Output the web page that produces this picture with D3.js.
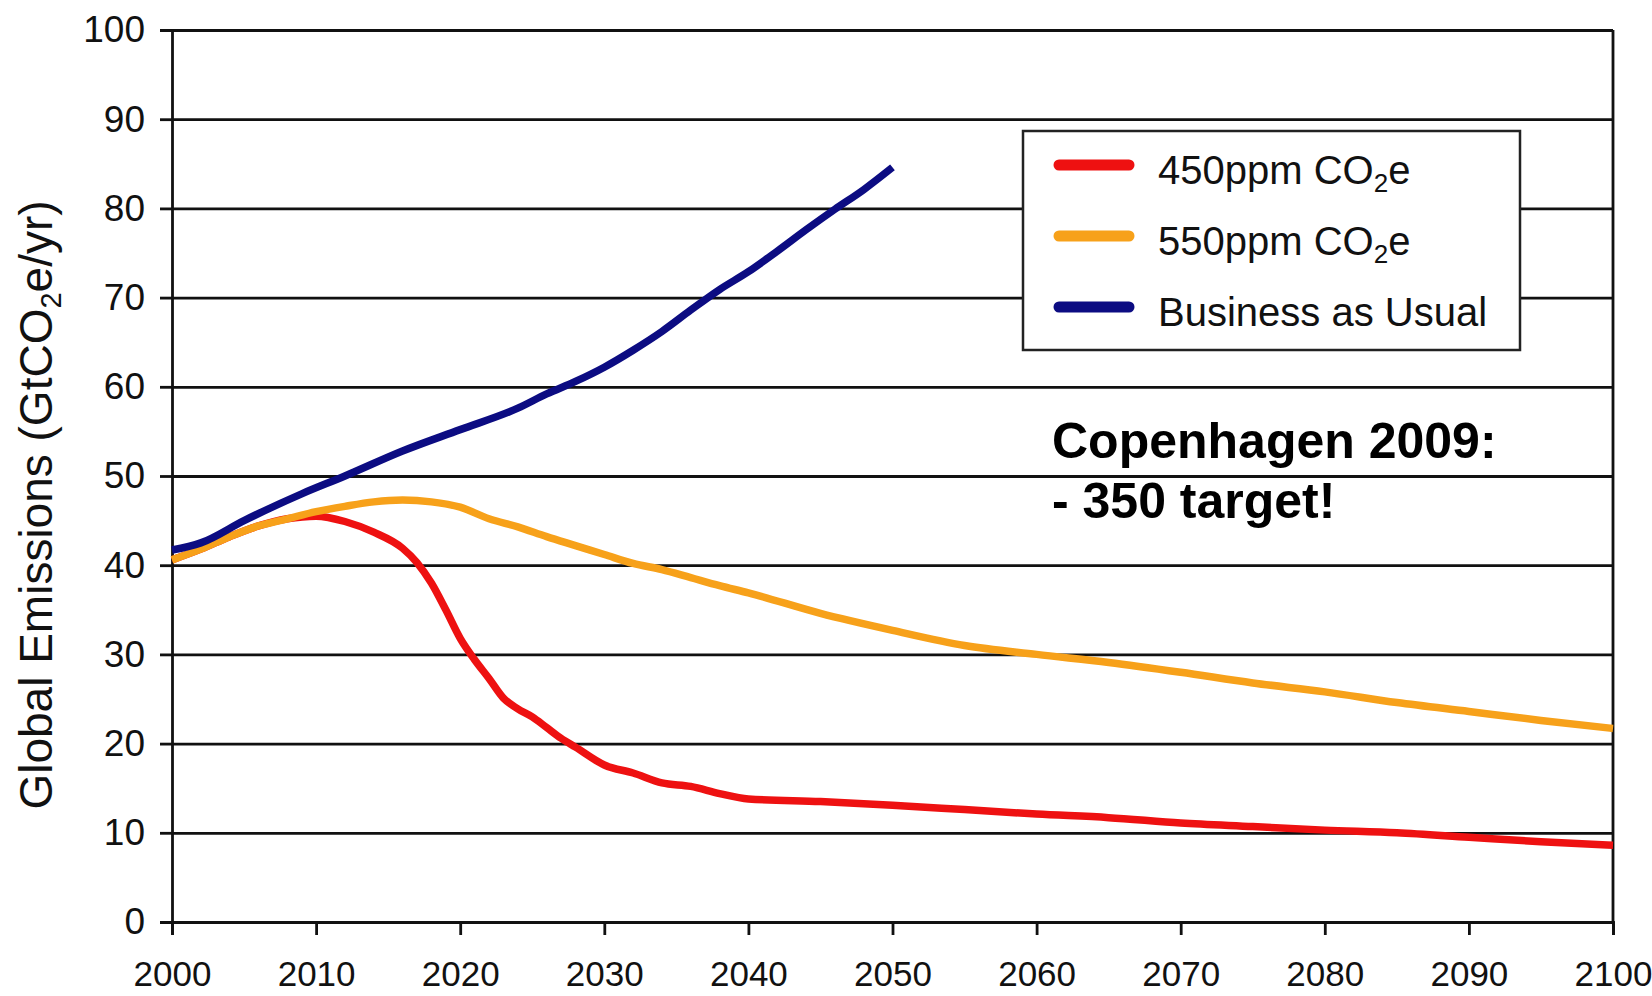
<!DOCTYPE html>
<html>
<head>
<meta charset="utf-8">
<script src="https://cdn.jsdelivr.net/npm/d3@7"></script>
<style>
  body { margin: 0; background: #fff; }
  text { font-family: "Liberation Sans", Arial, sans-serif; fill: #111; }
</style>
</head>
<body>
<script>
// data
var years450 = [2000,2002,2004,2006,2008,2010,2012,2014,2016,2017,2018,2019,2020,2021,2022,2023,2024,2025,2026,2027,2028,2030,2032,2034,2036,2038,2040,2045,2050,2055,2060,2065,2070,2075,2080,2085,2090,2095,2100];
var values450 = [40.6,41.8,43.2,44.4,45.2,45.5,44.9,43.7,41.9,40.3,38.0,35.0,31.8,29.4,27.3,25.1,23.9,23.0,21.8,20.6,19.6,17.6,16.7,15.6,15.2,14.4,13.8,13.5,13.1,12.6,12.1,11.7,11.1,10.7,10.3,10.0,9.5,9.0,8.6];

var years550 = [2000,2002,2004,2006,2008,2010,2012,2014,2016,2018,2020,2022,2024,2026,2028,2030,2032,2034,2036,2038,2040,2045,2050,2055,2060,2065,2070,2075,2080,2085,2090,2095,2100];
var values550 = [40.6,41.8,43.2,44.4,45.2,46.0,46.6,47.1,47.3,47.1,46.5,45.2,44.3,43.2,42.2,41.2,40.2,39.5,38.6,37.7,36.9,34.6,32.7,31.0,30.0,29.1,28.0,26.8,25.8,24.6,23.6,22.6,21.7];

var yearsBau = [2000,2002,2005,2009,2012,2016,2020,2024,2026,2028,2030,2032,2034,2036,2038,2040,2042,2044,2046,2048,2050];
var valuesBau = [41.7,42.5,45.0,48.0,50.0,52.8,55.2,57.6,59.2,60.6,62.2,64.1,66.2,68.6,70.9,72.9,75.2,77.6,79.9,82.1,84.6];

var xTicks = [2000,2010,2020,2030,2040,2050,2060,2070,2080,2090,2100];
var yTicks = [0,10,20,30,40,50,60,70,80,90,100];

var seriesNames = ["450ppm CO", "550ppm CO", "Business as Usual"];
var seriesColors = ["#ee1111", "#f7a11a", "#0c0c82"];

var W = 1652, H = 996;
var plotLeft = 172, plotRight = 1613, plotTop = 30, plotBottom = 922;

var svg = d3.select("body").append("svg")
	.attr("width", W)
	.attr("height", H);

svg.append("rect").attr("width", W).attr("height", H).attr("fill", "#fff");

var x = d3.scaleLinear().domain([2000, 2100]).range([plotLeft, plotRight]);
var y = d3.scaleLinear().domain([0, 100]).range([plotBottom, plotTop]);

// gridlines
var grid = svg.append("g")
	.attr("transform", "translate(" + plotLeft + ",0)")
	.call(d3.axisLeft(y).tickValues(yTicks).tickSize(-(plotRight - plotLeft)).tickFormat(""));
grid.select(".domain").remove();
grid.selectAll("line").attr("stroke", "#111").attr("stroke-width", 2.8);

// right border
svg.append("line")
	.attr("x1", plotRight).attr("x2", plotRight)
	.attr("y1", y(100)).attr("y2", y(0))
	.attr("stroke", "#111").attr("stroke-width", 2.8);

// y axis
var yAxis = svg.append("g")
	.attr("transform", "translate(" + plotLeft + ",0)")
	.call(d3.axisLeft(y).tickValues(yTicks).tickSize(12).tickPadding(15));
yAxis.selectAll("path, line").attr("stroke", "#111").attr("stroke-width", 2.8);
yAxis.selectAll("text").attr("font-size", 37).attr("fill", "#111")
	.style("font-family", "'Liberation Sans', Arial, sans-serif");

// x axis
var xAxis = svg.append("g")
	.attr("transform", "translate(0," + plotBottom + ")")
	.call(d3.axisBottom(x).tickValues(xTicks).tickFormat(d3.format("d")).tickSize(13).tickPadding(26));
xAxis.selectAll("path, line").attr("stroke", "#111").attr("stroke-width", 2.8);
xAxis.selectAll("text").attr("font-size", 35).attr("fill", "#111")
	.style("font-family", "'Liberation Sans', Arial, sans-serif");

// y axis title
var yt = svg.append("text")
	.attr("transform", "translate(52,505) rotate(-90)")
	.attr("text-anchor", "middle")
	.attr("font-size", 46);
yt.append("tspan").text("Global Emissions (GtCO");
yt.append("tspan").attr("font-size", 29).attr("dy", 9).text("2");
yt.append("tspan").attr("dy", -9).text("e/yr)");

// lines
var line = d3.line()
	.x(function(d){ return x(d[0]); })
	.y(function(d){ return y(d[1]); })
	.curve(d3.curveMonotoneX);

var series = [
	d3.zip(years450, values450),
	d3.zip(years550, values550),
	d3.zip(yearsBau, valuesBau)
];

svg.selectAll("path.series")
	.data(series)
	.enter()
	.append("path")
	.attr("class", "series")
	.attr("d", line)
	.attr("fill", "none")
	.attr("stroke", function(d, i){ return seriesColors[i]; })
	.attr("stroke-width", 7.5)
	.attr("stroke-linejoin", "round")
	.attr("stroke-linecap", "butt");

// legend
var lg = svg.append("g");
lg.append("rect")
	.attr("x", 1023).attr("y", 131)
	.attr("width", 497).attr("height", 219)
	.attr("fill", "#fff").attr("stroke", "#222").attr("stroke-width", 2.5);

var rowY = [165, 236, 307];
seriesNames.forEach(function(name, i){
	lg.append("line")
		.attr("x1", 1059).attr("x2", 1129)
		.attr("y1", rowY[i]).attr("y2", rowY[i])
		.attr("stroke", seriesColors[i])
		.attr("stroke-width", 11)
		.attr("stroke-linecap", "round");
	var t = lg.append("text")
		.attr("x", 1158).attr("y", rowY[i] + 19)
		.attr("font-size", 40);
	t.append("tspan").text(name);
	if (i < 2) {
		t.append("tspan").attr("font-size", 26).attr("dy", 8).text("2");
		t.append("tspan").attr("dy", -8).text("e");
	}
});

// annotation
var note = svg.append("text")
	.attr("x", 1052).attr("y", 458)
	.attr("font-size", 50)
	.attr("font-weight", "bold")
	.style("fill", "#000");
note.append("tspan").attr("x", 1052).text("Copenhagen 2009:");
note.append("tspan").attr("x", 1052).attr("dy", 60).text("- 350 target!");
</script>
</body>
</html>
